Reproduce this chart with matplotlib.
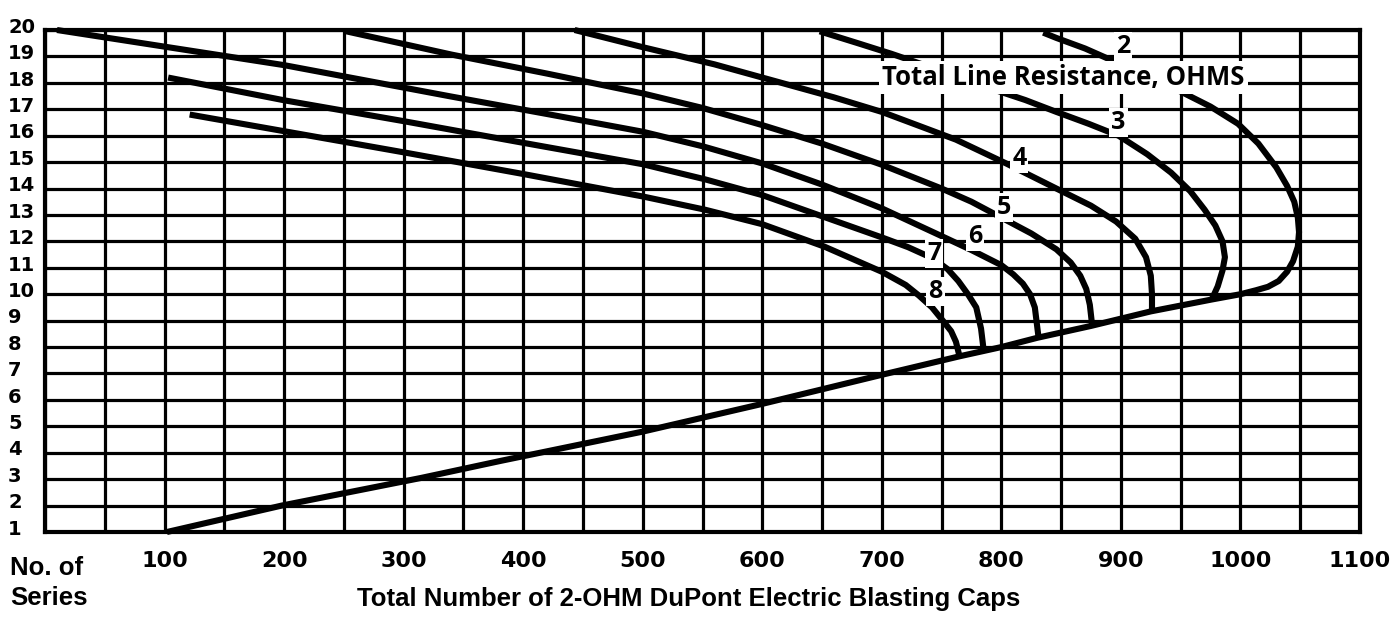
"""
Series / cap chart: number of series vs total 2-ohm caps, one curve per
total line resistance (2..8 ohms), all ending on the ~100 caps/series line.
"""

import matplotlib
matplotlib.use('Agg')
import matplotlib.pyplot as plt
import matplotlib.ticker as mticker
from matplotlib.transforms import blended_transform_factory


# lower envelope line (caps, series)
LOWER_CAPS = [102, 198, 315, 382, 500, 600, 700, 765, 800, 830, 875, 925, 976, 1000]
LOWER_SERIES = [1.0, 2.0, 3.05, 3.7, 4.8, 5.85, 6.95, 7.65, 8.0, 8.35, 8.8, 9.35, 9.8, 10.0]

R2_CAPS = [835, 846, 870, 890, 920, 950, 975, 998, 1015, 1030, 1039, 1045, 1048, 1049,
           1048, 1044, 1039, 1032, 1023, 1013, 1000]
R2_SERIES = [19.9, 19.7, 19.3, 18.9, 18.3, 17.67, 17.1, 16.45, 15.7, 14.8, 14.1, 13.5, 12.9,
             12.35, 11.8, 11.25, 10.85, 10.5, 10.28, 10.15, 10.0]

R3_CAPS = [648, 680, 708, 750, 790, 820, 846, 873, 898, 922, 942, 958, 970, 979, 985, 987,
           985, 981, 976]
R3_SERIES = [19.95, 19.5, 19.1, 18.45, 17.8, 17.35, 16.9, 16.45, 16.0, 15.3, 14.6, 13.9, 13.2,
             12.6, 12.0, 11.4, 10.9, 10.3, 9.8]

R4_CAPS = [443, 500, 560, 620, 660, 700, 762, 804, 846, 875, 896, 912, 921, 925, 926, 926]
R4_SERIES = [20.0, 19.35, 18.7, 17.95, 17.45, 16.9, 15.85, 14.95, 14.0, 13.35, 12.75, 12.1,
             11.4, 10.7, 10.0, 9.35]

R5_CAPS = [252, 340, 420, 500, 550, 600, 650, 700, 750, 775, 800, 825, 846, 858, 866, 871,
           874, 876]
R5_SERIES = [19.95, 19.07, 18.35, 17.6, 17.05, 16.4, 15.7, 14.9, 14.0, 13.5, 12.9, 12.3, 11.7,
             11.2, 10.7, 10.2, 9.6, 8.8]

R6_CAPS = [10, 200, 340, 420, 500, 550, 600, 650, 700, 750, 775, 800, 810, 818, 824, 828, 831]
R6_SERIES = [20.0, 18.67, 17.48, 16.82, 16.15, 15.6, 14.95, 14.15, 13.25, 12.2, 11.67, 11.1,
             10.75, 10.4, 10.0, 9.5, 8.4]

R7_CAPS = [103, 200, 300, 400, 500, 552, 600, 650, 700, 722, 743, 755, 764, 772, 779, 783, 785]
R7_SERIES = [18.2, 17.34, 16.55, 15.73, 14.92, 14.35, 13.75, 12.95, 12.15, 11.78, 11.35, 10.95,
             10.5, 10.0, 9.5, 8.7, 7.95]

R8_CAPS = [121, 200, 300, 400, 500, 552, 600, 652, 700, 720, 731, 742, 751, 758, 762, 765]
R8_SERIES = [16.8, 16.17, 15.37, 14.55, 13.7, 13.2, 12.65, 11.8, 10.85, 10.35, 9.95, 9.5, 9.0,
             8.6, 8.2, 7.65]

CURVE_LABELS = ['2', '3', '4', '5', '6', '7', '8']
LABEL_CAPS = [902, 898, 815, 802, 778, 744, 745]
LABEL_SERIES = [19.5, 16.6, 15.25, 13.4, 12.3, 11.65, 10.2]

SERIES_TICKS = list(range(1, 21))
CAP_TICKS = [100, 200, 300, 400, 500, 600, 700, 800, 900, 1000, 1100]

LEGEND_TEXT = 'Total Line Resistance, OHMS'
LEGEND_POS = (852, 18.2)

AXIS_FONT = 'Liberation Sans'
DIGIT_FONT = 'DejaVu Sans'
LABEL_FONT = 'Open Sans'
INK = 'black'


def draw_curves(ax):
    curves = [
        (LOWER_CAPS, LOWER_SERIES),
        (R2_CAPS, R2_SERIES), (R3_CAPS, R3_SERIES), (R4_CAPS, R4_SERIES),
        (R5_CAPS, R5_SERIES), (R6_CAPS, R6_SERIES), (R7_CAPS, R7_SERIES),
        (R8_CAPS, R8_SERIES),
    ]
    for xs, ys in curves:
        ax.plot(xs, ys, color=INK, lw=4.4, solid_capstyle='butt',
                solid_joinstyle='round', zorder=3, clip_on=False)


def draw_labels(ax):
    for text, x, y in zip(CURVE_LABELS, LABEL_CAPS, LABEL_SERIES):
        ax.text(x, y, text, fontsize=18, fontweight='bold', family=LABEL_FONT,
                ha='center', va='center_baseline', zorder=5,
                bbox=dict(boxstyle='square,pad=0.08', fc='white', ec='none'))
    ax.text(*LEGEND_POS, LEGEND_TEXT, fontsize=18.5, fontweight='bold', family=LABEL_FONT,
            ha='center', va='center', zorder=6,
            bbox=dict(boxstyle='square,pad=0.12', fc='white', ec='none'))


def main():
    fig = plt.figure(figsize=(14, 6.18), dpi=100)
    ax = fig.add_axes([45 / 1400, 1 - 532 / 618, 1315 / 1400, 502 / 618])

    ax.set_xlim(0, 1100)
    ax.set_ylim(1, 20)
    ax.xaxis.set_major_locator(mticker.FixedLocator(CAP_TICKS))
    ax.xaxis.set_minor_locator(mticker.MultipleLocator(50))
    ax.yaxis.set_major_locator(mticker.FixedLocator(SERIES_TICKS))
    ax.grid(True, which='both', color=INK, lw=2.3, zorder=1)
    ax.set_axisbelow(True)
    ax.tick_params(which='both', length=0)
    ax.tick_params(axis='x', pad=14, labelsize=16)
    ax.tick_params(axis='y', labelleft=False)
    for lab in ax.get_xticklabels():
        lab.set_fontweight('bold')
        lab.set_family(DIGIT_FONT)
    for spine in ax.spines.values():
        spine.set_linewidth(3)
        spine.set_color(INK)

    # y labels sit at the far left, slightly above their grid line
    trans = blended_transform_factory(fig.transFigure, ax.transData)
    for val in SERIES_TICKS:
        ax.text(8 / 1400, val + 0.18, str(val), transform=trans, fontsize=14,
                fontweight='bold', family=DIGIT_FONT, ha='left', va='center_baseline')

    draw_curves(ax)
    draw_labels(ax)

    fig.text(10 / 1400, 1 - 568 / 618, 'No. of', fontsize=18.5, fontweight='bold',
             family=AXIS_FONT, ha='left', va='center')
    fig.text(10 / 1400, 1 - 598 / 618, 'Series', fontsize=18.5, fontweight='bold',
             family=AXIS_FONT, ha='left', va='center')
    fig.text(689 / 1400, 1 - 599 / 618, 'Total Number of 2-OHM DuPont Electric Blasting Caps',
             fontsize=18.5, fontweight='bold', family=AXIS_FONT, ha='center', va='center')

    fig.savefig('out.png', dpi=100, facecolor='white')
    plt.close(fig)


if __name__ == '__main__':
    main()
